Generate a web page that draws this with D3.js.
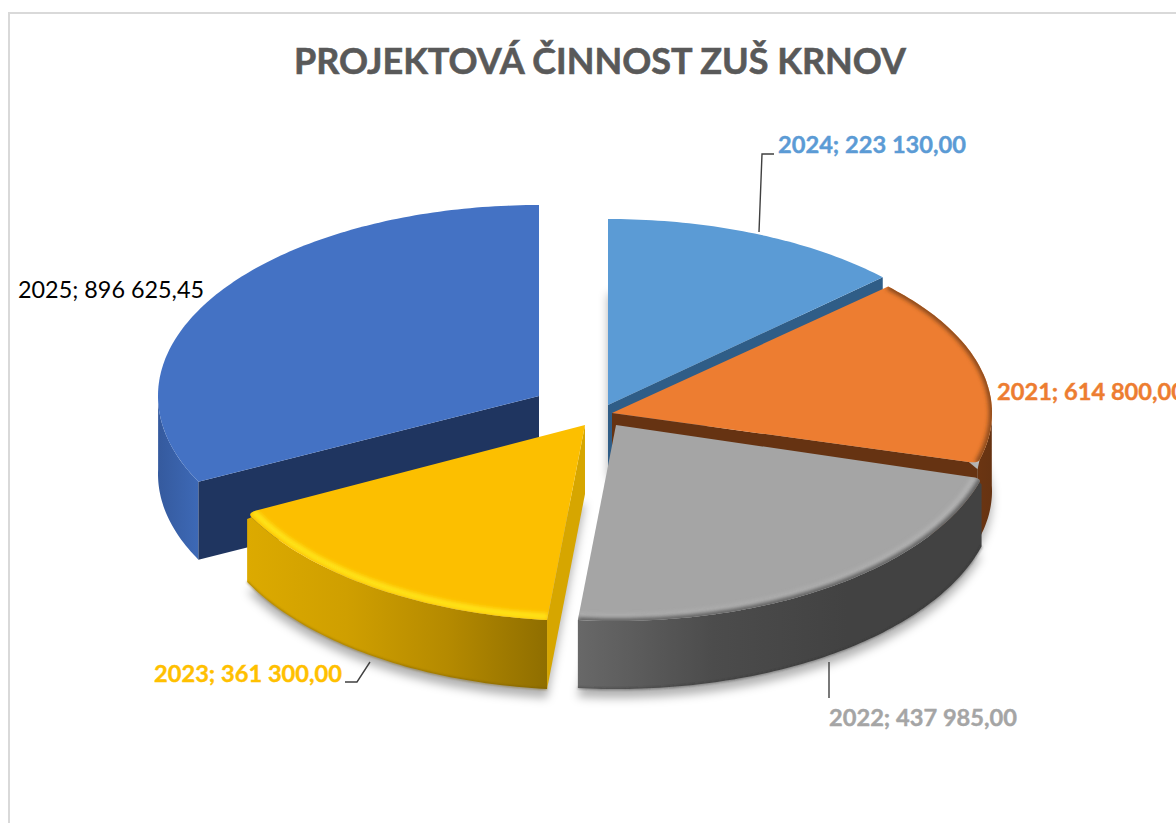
<!DOCTYPE html>
<html><head><meta charset="utf-8">
<script src="https://cdn.jsdelivr.net/npm/d3@7/dist/d3.min.js"></script>
<style>html,body{margin:0;padding:0;background:#fff;overflow:hidden}svg{display:block}text{font-family:Lato,"Open Sans",sans-serif}</style>
</head><body><svg id="c" width="1176" height="823"></svg>
<script>
// ---- data ----
const titleText = "PROJEKTOVÁ ČINNOST ZUŠ KRNOV";
const years = ["2024","2021","2022","2023","2025"];
// values printed in the data labels
const labelValues = [223130.00, 614800.00, 437985.00, 361300.00, 896625.45];
// slice sizes as measured from the drawn picture (%); the drawn wedges do not
// follow the printed label values, so they are kept apart from them
const sliceShares = [12.95, 16.45, 22.2, 16.0, 32.4];
// ---- style ----
const topColors  = ["#5b9bd5","#ed7d31","#a5a5a5","#fcbf00","#4472c4"];
const labelColors= ["#5b9bd5","#ed7d31","#a5a5a5","#ffc000","#000000"];
const cutColors  = ["#2f5d87","#663312",null,"#d6a600","#1f3560"];
const wallStops  = [["#2f5d87","#2f5d87"],["#6b3512","#663312"],["#686868","#4c4c4c","#424242","#424242"],["#dcaa00","#cf9f00","#b58a00","#8f6e00"],["#355a9e","#3d69b6"]];
const cx=[608,612,616,585,539], cy=[405,413,425,425,396], rxs=[378,380,380,378,381], rys=[186,184,196,196,191], depth=[66,78,68,69,78];
const cutEdge=["end","end",null,"start","start"];
const roundStart=[0,0,.02,0,0], roundEnd=[0,.02,0,.025,0];
const bevels=[[],[{r:1,c:"#84461a",w:6}],[{r:.98,c:"#b8b8b8",w:4},{r:1,c:"#555",w:5}],[{r:.982,c:"#ffe61a",w:6}],[]];
const edgeColors=[null,null,"#333","#6f5500",null];
const castsShadow=[true,true,true,true,false];
const labelPos=[[778,153,"bold",188],[997,400,"bold",188],[829,726,"bold",188],[154,682,"bold",188],[18,298,"normal",186]];
const leaders=[[[759,232],[762,154],[774,154]],[[829,662],[829,698]],[[345,682],[357,682],[370,662]]];

const svg=d3.select("#c"), defs=svg.append("defs");
const blur=(id,s)=>defs.append("filter").attr("id",id).attr("x","-20%").attr("y","-20%").attr("width","140%").attr("height","140%").append("feGaussianBlur").attr("stdDeviation",s);
blur("shadow",5); blur("bev",2); blur("edge",.8);

// border (right and bottom sides lie outside the crop)
svg.append("rect").attr("x",9).attr("y",13).attr("width",1300).attr("height",1000).attr("fill","#fff").attr("stroke","#d9d9d9").attr("stroke-width",2);

svg.append("text").attr("x",294).attr("y",74).attr("font-size",37).attr("font-weight",700).attr("fill","#595959").attr("stroke","#595959").attr("stroke-width",.6)
  .attr("textLength",612).attr("lengthAdjust","spacingAndGlyphs").text(titleText);

const arcs=d3.pie().sort(null).value(d=>d)(sliceShares);
const rx=i=>d3.scaleLinear().domain([0,1]).range([0,rxs[i]]);
const ry=i=>d3.scaleLinear().domain([0,1]).range([0,rys[i]]);
const pt=(i,t,r=1,dz=0)=>[cx[i]+rx(i)(r)*Math.sin(t), cy[i]-ry(i)(r)*Math.cos(t)+dz];
const arcPts=(i,a,b,r=1,dz=0)=>{const n=Math.max(4,Math.ceil((b-a)*60));return d3.range(n+1).map(k=>pt(i,a+(b-a)*k/n,r,dz));};
const line=d3.line();

function topPath(i){
  const {startAngle:a,endAngle:b}=arcs[i], p=d3.path(), rs=roundStart[i], re=roundEnd[i];
  p.moveTo(...pt(i,a,0));
  if(rs){p.lineTo(...pt(i,a,1-rs*1.2));p.quadraticCurveTo(...pt(i,a,1),...pt(i,a+rs));}else p.lineTo(...pt(i,a));
  arcPts(i,a+rs,b-re).forEach(q=>p.lineTo(...q));
  if(re){p.quadraticCurveTo(...pt(i,b,1),...pt(i,b,1-re*1.2));}
  p.closePath();
  return p.toString();
}
function bottomPts(i){const {startAngle:a,endAngle:b}=arcs[i];return [pt(i,a,0,depth[i]+9),...arcPts(i,a,b,1,depth[i]+9)];}

// floor shadows
const shadowG=svg.append("g").attr("filter","url(#shadow)").attr("fill","#000").attr("fill-opacity",.3);
arcs.forEach((d,i)=>{ if(castsShadow[i]) shadowG.append("path").attr("d",line(bottomPts(i))+"Z"); });

// gradients for the outer walls
arcs.forEach((d,i)=>{
  const g=defs.append("linearGradient").attr("id","wall"+i);
  const st=wallStops[i];
  st.forEach((c,k)=>g.append("stop").attr("offset",k/(st.length-1)).attr("stop-color",c));
  defs.append("clipPath").attr("id","clip"+i).append("path").attr("d",topPath(i));
});

// painter's order, back to front
[0,1,4,2,3].forEach(i=>{
  const d=arcs[i], g=svg.append("g").attr("class","slice-"+years[i]);
  const a=d.startAngle,b=d.endAngle;
  // visible part of wall: only the portion facing the viewer
  const wa=Math.max(a,Math.PI/2*0.98), wb=Math.min(b,Math.PI*1.5*1.005);
  if(wb>wa){
    const rs=roundStart[i], re=roundEnd[i];
    const up=arcPts(i,wa+rs,wb-re), dn=arcPts(i,wa,wb,1,depth[i]).reverse();
    if(rs) up.unshift(pt(i,wa,1,6));
    if(re) up.push(pt(i,wb,1,6));
    g.append("path").attr("d",line([...up,...dn])+"Z").attr("fill",`url(#wall${i})`);
    if(edgeColors[i]) g.append("path").attr("d",line(arcPts(i,wa,wb,1,depth[i]))).attr("fill","none").attr("stroke",edgeColors[i]).attr("stroke-opacity",.6).attr("stroke-width",1.6).attr("filter","url(#edge)");
  }
  if(cutEdge[i]){
    const t=cutEdge[i]==="end"?b:a;
    const rim=(cutEdge[i]==="end"?roundEnd:roundStart)[i];
    g.append("path").attr("d",line([pt(i,t,0),pt(i,t,1-rim*1.2),pt(i,t,1,rim?6:0),pt(i,t,1,depth[i]),pt(i,t,0,depth[i])])+"Z").attr("fill",cutColors[i]);
  }
  g.append("path").attr("d",topPath(i)).attr("fill",topColors[i]);
  const bg=g.append("g").attr("clip-path",`url(#clip${i})`);
  bevels[i].forEach(bv=>bg.append("path").attr("d",line(arcPts(i,a,b,bv.r))).attr("fill","none").attr("stroke",bv.c).attr("stroke-width",bv.w).attr("filter","url(#bev)"));
});

// leader lines
leaders.forEach(l=>svg.append("path").attr("d",line(l)).attr("fill","none").attr("stroke","#404040").attr("stroke-width",1.4));

// data labels
const fmt=d3.formatLocale({decimal:",",thousands:" ",grouping:[3],currency:["",""]}).format(",.2f");
years.forEach((y,i)=>{
  const [x,yy,w,len]=labelPos[i];
  const t=svg.append("text").attr("x",x).attr("y",yy).attr("font-size",23).attr("font-weight",w).attr("fill",labelColors[i])
    .attr("textLength",len).attr("lengthAdjust","spacingAndGlyphs").text(`${y}; ${fmt(labelValues[i])}`);
  if(w==="bold") t.attr("stroke",labelColors[i]).attr("stroke-width",.4);
});
</script></body></html>
